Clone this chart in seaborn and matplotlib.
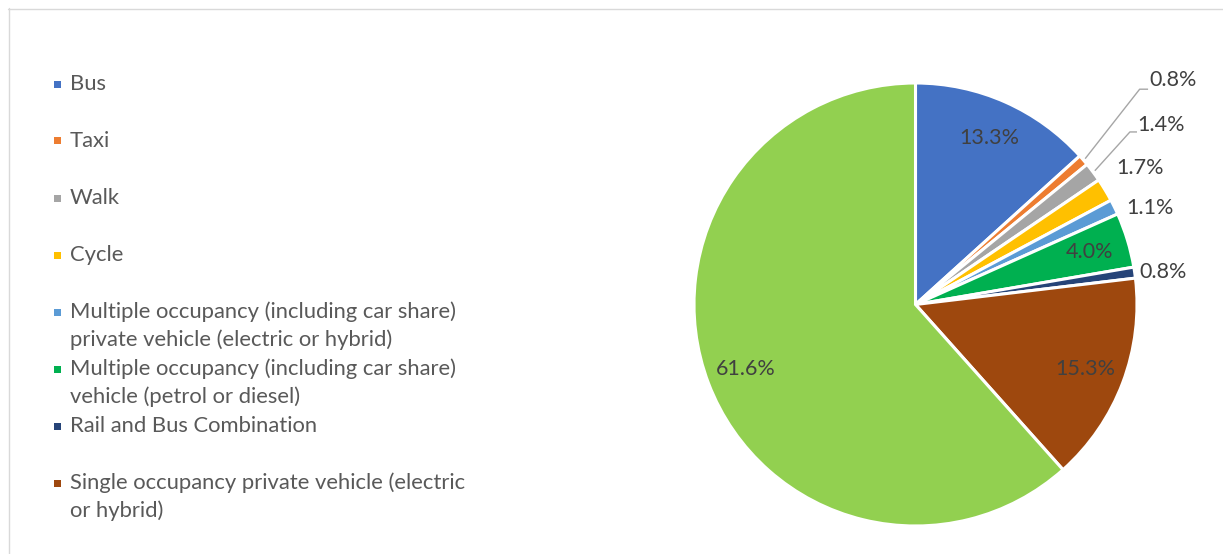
import numpy as np
import matplotlib
matplotlib.use("Agg")
import matplotlib.pyplot as plt
import seaborn as sns
from matplotlib.patches import Rectangle
from matplotlib.lines import Line2D

# Travel mode shares (%)
categories = [
    "Bus",
    "Taxi",
    "Walk",
    "Cycle",
    "Multiple occupancy (including car share)\nprivate vehicle (electric or hybrid)",
    "Multiple occupancy (including car share)\nvehicle (petrol or diesel)",
    "Rail and Bus Combination",
    "Single occupancy private vehicle (electric\nor hybrid)",
    "Single occupancy private vehicle (petrol or\ndiesel)",
]
shares = [13.3, 0.8, 1.4, 1.7, 1.1, 4.0, 0.8, 15.3, 61.6]
colors = ["#4472C4", "#ED7D31", "#A5A5A5", "#FFC000", "#5B9BD5",
          "#00B050", "#264478", "#9E480E", "#92D050"]

sns.set_theme(style="white")
plt.rcParams["font.family"] = ["Lato", "DejaVu Sans"]

W, H = 1223, 554
fig = plt.figure(figsize=(W / 100, H / 100), dpi=100)
fig.patch.set_facecolor("white")


def fx(px):
    return px / W


def fy(py):
    return 1 - py / H


# pie geometry in pixels
R, CX, CY = 221.5, 915.5, 304.5
ax = fig.add_axes([0, 0, 1, 1])
palette = sns.color_palette(colors)
ax.pie(shares, colors=palette, startangle=90, counterclock=False,
       radius=1, center=(0, 0),
       wedgeprops=dict(edgecolor="white", linewidth=2.2))
ax.set_xlim(-CX / R, (W - CX) / R)
ax.set_ylim(-(H - CY) / R, CY / R)
ax.set_aspect("equal")
ax.set_axis_off()

# value labels
vals = np.array(shares)
start = np.cumsum(vals) - vals
mid = np.deg2rad(360 * (start + vals / 2) / vals.sum())
label_color = "#404040"
label_size = 15.5
inside = {0, 5, 7, 8}
outside_pos = {1: (1.058, 1.014), 2: (1.003, 0.812), 3: (0.905, 0.616),
               4: (0.950, 0.436), 6: (1.012, 0.147)}
leaders = {1: [(1.012, 0.972), (1.050, 0.972)],
           2: [(0.968, 0.779), (1.000, 0.779)]}
for i, v in enumerate(vals):
    txt = f"{v:.1f}%"
    if i in inside:
        r = 0.82
        ax.text(r * np.sin(mid[i]), r * np.cos(mid[i]), txt, ha="center",
                va="center", fontsize=label_size, color=label_color)
    else:
        x, y = outside_pos[i]
        ax.text(x, y, txt, ha="left", va="center", fontsize=label_size,
                color=label_color)
        if i in leaders:
            pts = [(np.sin(mid[i]) * 1.01, np.cos(mid[i]) * 1.01)] + leaders[i]
            xs, ys = zip(*pts)
            ax.plot(xs, ys, color="#A6A6A6", lw=1, solid_capstyle="butt")

# legend (rows that fit in the chart area)
legend_color = "#595959"
row0, row_step, line_step = 84, 57, 27.5
for k, (name, col) in enumerate(zip(categories, colors)):
    y0 = row0 + k * row_step
    if y0 > H - 20:
        break
    fig.patches.append(Rectangle((fx(53.5), fy(y0 + 3.5)), 7 / W, 7 / H,
                                 transform=fig.transFigure, facecolor=col,
                                 edgecolor="none"))
    for j, line in enumerate(name.split("\n")):
        fig.text(fx(70), fy(y0 + j * line_step), line, ha="left",
                 va="center", fontsize=15.8, color=legend_color)

# chart area border (top and left edges)
fig.lines.append(Line2D([fx(8), fx(W)], [fy(8.5), fy(8.5)],
                        transform=fig.transFigure, color="#D9D9D9", lw=1))
fig.lines.append(Line2D([fx(8.5), fx(8.5)], [fy(8), fy(H)],
                        transform=fig.transFigure, color="#D9D9D9", lw=1))

fig.savefig("out.png", dpi=100, facecolor="white")
